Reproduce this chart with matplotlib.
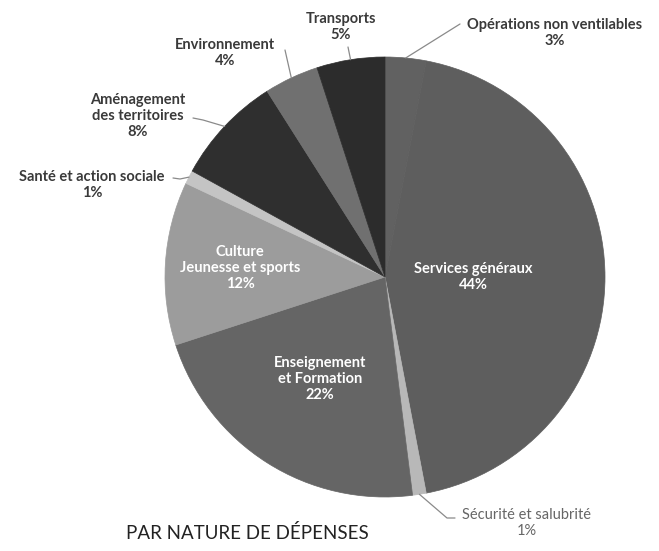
import numpy as np
import matplotlib.pyplot as plt

# Budget split, clockwise from 12 o'clock
labels = ["Opérations non ventilables", "Services généraux", "Sécurité et salubrité",
          "Enseignement\net Formation", "Culture\nJeunesse et sports", "Santé et action sociale",
          "Aménagement\ndes territoires", "Environnement", "Transports"]
shares = [3, 44, 1, 22, 12, 1, 8, 4, 5]
colors = ["#616161", "#5e5e5e", "#b8b8b8", "#656565", "#9c9c9c",
          "#c4c4c4", "#2f2f2f", "#707070", "#2c2c2c"]
title = "PAR NATURE DE DÉPENSES"

W, H = 659, 551
fig = plt.figure(figsize=(W / 100, H / 100), dpi=100)
ax = fig.add_axes([0, 0, 1, 1])


def px(x, y):
    # picture pixel -> data coords
    return x, H - y


cx, cy = px(385, 277)
R = 220
wedges, _ = ax.pie(shares, colors=colors, startangle=90, counterclock=False,
                   center=(cx, cy), radius=R, frame=True,
                   wedgeprops=dict(linewidth=0.5))
for w, c in zip(wedges, colors):
    w.set_edgecolor(c)
ax.set_xlim(0, W)
ax.set_ylim(0, H)
ax.set_aspect("equal")
ax.axis("off")

FONT = ["Lato", "DejaVu Sans"]

# labels inside the slices: index -> radial fraction
inside = {1: 0.40, 3: 0.55, 4: 0.66}
for i, frac in inside.items():
    w = wedges[i]
    a = np.deg2rad((w.theta1 + w.theta2) / 2)
    ax.text(cx + frac * R * np.cos(a), cy + frac * R * np.sin(a),
            f"{labels[i]}\n{shares[i]}%", ha="center", va="center",
            color="white", fontsize=10.5, fontweight="bold", family=FONT,
            linespacing=1.2)

# labels outside: index -> (text centre, leader points) in picture pixels
outside = {
    8: ((341, 27), [(348, 47)]),
    0: ((555, 33), [(460, 24)]),
    7: ((225, 53), [(285, 50)]),
    6: ((138, 116), [(193, 118), (203, 120)]),
    5: ((92, 185), [(173, 178), (180, 179)]),
    2: ((527, 523), [(455, 518), (447, 518)]),
}
for i, (tpos, pts) in outside.items():
    w = wedges[i]
    a = np.deg2rad((w.theta1 + w.theta2) / 2)
    ex, ey = cx + R * np.cos(a), cy + R * np.sin(a)
    xs = [px(*p)[0] for p in pts] + [ex]
    ys = [px(*p)[1] for p in pts] + [ey]
    ax.plot(xs, ys, color="#8a8a8a", lw=0.9, solid_capstyle="round")
    tx, ty = px(*tpos)
    weight = "normal" if i == 2 else "bold"
    col = "#666666" if i == 2 else "#3a3a3a"
    ax.text(tx, ty, f"{labels[i]}\n{shares[i]}%", ha="center", va="center",
            color=col, fontsize=10.5, fontweight=weight, family=FONT,
            linespacing=1.2)

tx, ty = px(247, 533)
ax.text(tx, ty, title, ha="center", va="center", fontsize=13.5,
        color="#222222", family=FONT)

fig.savefig("out.png", dpi=100, facecolor="white")
